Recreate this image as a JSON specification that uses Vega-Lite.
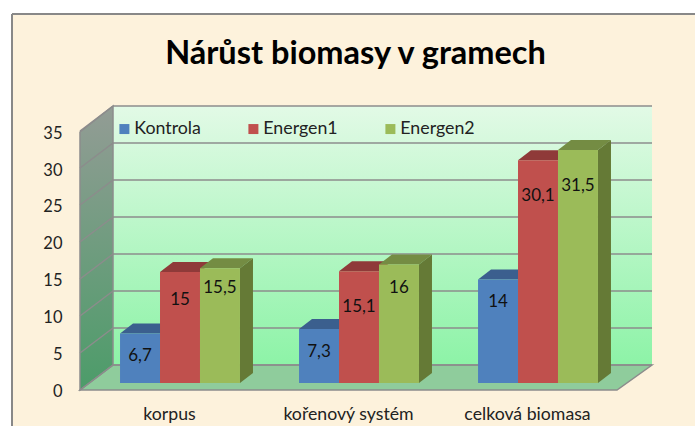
{
"$schema":"https://vega.github.io/schema/vega-lite/v6.json",
"autosize":"none",
"padding":{"left":12,"top":14,"right":0,"bottom":0},
"width":683,"height":412,
"background":"#ffffff",
"view":{"fill":"#fdf2dc","stroke":null},
"config":{"font":"Lato"},
"title":{"text":"Nárůst biomasy v gramech","font":"Lato","fontSize":32.5,"fontWeight":"bold","color":"#000000","anchor":"middle","frame":"group","offset":-57,"dx":2},
"datasets":{
"mereni":[
{"cast":"korpus","rada":"Kontrola","hodnota":6.7,"popisek":"6,7"},
{"cast":"korpus","rada":"Energen1","hodnota":15,"popisek":"15"},
{"cast":"korpus","rada":"Energen2","hodnota":15.5,"popisek":"15,5"},
{"cast":"kořenový systém","rada":"Kontrola","hodnota":7.3,"popisek":"7,3"},
{"cast":"kořenový systém","rada":"Energen1","hodnota":15.1,"popisek":"15,1"},
{"cast":"kořenový systém","rada":"Energen2","hodnota":16,"popisek":"16"},
{"cast":"celková biomasa","rada":"Kontrola","hodnota":14,"popisek":"14"},
{"cast":"celková biomasa","rada":"Energen1","hodnota":30.1,"popisek":"30,1"},
{"cast":"celková biomasa","rada":"Energen2","hodnota":31.5,"popisek":"31,5"}
],
"mrizka":[{"mez":0},{"mez":5},{"mez":10},{"mez":15},{"mez":20},{"mez":25},{"mez":30},{"mez":35}]
},
"resolve":{"scale":{"x":"independent"},"axis":{"x":"independent","y":"independent"},"legend":{"color":"independent"}},
"layer":[
{"data":{"name":"mrizka"},"transform":[{"filter":"datum.mez===0"}],
 "mark":{"type":"rule","stroke":"#888888","strokeWidth":2},"encoding":{"x":{"value":0}}},
{"data":{"name":"mrizka"},"transform":[{"filter":"datum.mez===0"}],
 "mark":{"type":"rule","stroke":"#888888","strokeWidth":2},"encoding":{"y":{"value":0}}},
{"data":{"name":"mrizka"},"transform":[{"filter":"datum.mez===0"}],
 "mark":{"type":"rect","xOffset":33,"x2Offset":35,"yOffset":-18,"y2Offset":-18,
  "fill":{"x1":0,"y1":0,"x2":0,"y2":1,"gradient":"linear","stops":[{"offset":0,"color":"#e2fae6"},{"offset":1,"color":"#8df3a7"}]}},
 "encoding":{
  "x":{"datum":0,"type":"quantitative","scale":{"domain":[0,3],"range":[68,605]},"axis":null},
  "x2":{"datum":3},
  "y":{"datum":35,"type":"quantitative","scale":{"domain":[-5.811,49.865],"range":[412,0],"nice":false,"zero":false},"axis":null},
  "y2":{"datum":0}}},
{"data":{"name":"mrizka"},"transform":[{"filter":"datum.mez===0"}],
 "mark":{"type":"point","filled":true,"opacity":1,"size":4,"yOffset":7,"shape":"M0,0 L33,-25 L572,-25 L537,0 Z","fill":"#8fcc9c","stroke":"#8c8c8c","strokeWidth":1.5},
 "encoding":{
  "x":{"datum":0,"type":"quantitative","scale":{"domain":[0,3],"range":[68,605]},"axis":null},
  "y":{"field":"mez","type":"quantitative","axis":null}}},
{"data":{"name":"mrizka"},"transform":[{"filter":"datum.mez===0"}],
 "mark":{"type":"point","filled":true,"opacity":1,"size":4,"yOffset":7,"shape":"M0,0 L33,-25 L33,-284 L0,-258 Z",
  "fill":{"x1":0,"y1":0,"x2":0,"y2":1,"gradient":"linear","stops":[{"offset":0,"color":"#939c95"},{"offset":1,"color":"#4c9c69"}]},"stroke":"#8c8c8c","strokeWidth":1.5},
 "encoding":{
  "x":{"datum":0,"type":"quantitative","scale":{"domain":[0,3],"range":[68,605]},"axis":null},
  "y":{"field":"mez","type":"quantitative","axis":null}}},
{"data":{"name":"mrizka"},
 "mark":{"type":"rule","stroke":"#8c8c8c","strokeWidth":1.5,"xOffset":33,"x2Offset":35,"yOffset":-18},
 "encoding":{
  "x":{"datum":0,"type":"quantitative","scale":{"domain":[0,3],"range":[68,605]},"axis":null},
  "x2":{"datum":3},
  "y":{"field":"mez","type":"quantitative","axis":null}}},
{"data":{"name":"mrizka"},
 "mark":{"type":"rule","stroke":"#8c8c8c","strokeWidth":1.5,"x2Offset":33,"yOffset":7,"y2Offset":-18},
 "encoding":{
  "x":{"datum":0,"type":"quantitative","scale":{"domain":[0,3],"range":[68,605]},"axis":null},
  "x2":{"datum":0},
  "y":{"field":"mez","type":"quantitative","axis":null},
  "y2":{"field":"mez"}}},
{"data":{"name":"mereni"},
 "mark":{"type":"point","filled":true,"opacity":1,"size":4,"shape":"M-20,0 L20,0 L33,-10 L-7,-10 Z"},
 "encoding":{
  "x":{"field":"cast","type":"nominal","sort":null,"scale":{"range":[78.5,615.5],"paddingInner":0.33,"paddingOuter":0.165},"axis":null},
  "xOffset":{"field":"rada","type":"nominal","sort":null},
  "y":{"field":"hodnota","type":"quantitative","axis":null},
  "fill":{"field":"rada","type":"nominal","sort":null,"scale":{"domain":["Kontrola","Energen1","Energen2"],"range":["#3b5f8e","#8f3a39","#748c43"]},"legend":null}}},
{"data":{"name":"mereni"},"transform":[{"filter":"datum.rada==='Energen2'"}],
 "mark":{"type":"point","filled":true,"opacity":1,"size":4,"fill":"#657a36"},
 "encoding":{
  "x":{"field":"cast","type":"nominal","sort":null,"scale":{"domain":["korpus","kořenový systém","celková biomasa"],"range":[78.5,615.5],"paddingInner":0.33,"paddingOuter":0.165},"axis":null},
  "xOffset":{"field":"rada","type":"nominal","scale":{"domain":["Kontrola","Energen1","Energen2"]}},
  "y":{"field":"hodnota","type":"quantitative","axis":null},
  "shape":{"field":"popisek","type":"nominal","legend":null,"scale":{"domain":["15,5","16","31,5"],"range":["M20,0 L33,-10 L33,104.7 L20,114.7 Z","M20,0 L33,-10 L33,108.4 L20,118.4 Z","M20,0 L33,-10 L33,223.1 L20,233.1 Z"]}}}},
{"data":{"name":"mereni"},
 "mark":{"type":"bar"},
 "encoding":{
  "x":{"field":"cast","type":"nominal","sort":null,"scale":{"range":[78.5,615.5],"paddingInner":0.33,"paddingOuter":0.165},
   "axis":{"title":null,"orient":"bottom","offset":-12,"labelAngle":0,"labelPadding":0,"ticks":false,"domain":false,"labelFont":"Lato","labelFontSize":17.7,"labelColor":"#222222","labelBaseline":"middle","labelOffset":-10.5}},
  "xOffset":{"field":"rada","type":"nominal","sort":null},
  "y":{"field":"hodnota","type":"quantitative",
   "axis":{"title":null,"orient":"left","offset":-50,"values":[0,5,10,15,20,25,30,35],"ticks":false,"domain":false,"grid":false,"labelPadding":0,"labelOffset":9,"labelFont":"Lato","labelFontSize":16.5,"labelColor":"#222222","format":"d"}},
  "color":{"field":"rada","type":"nominal","sort":null,"scale":{"domain":["Kontrola","Energen1","Energen2"],"range":["#4f81bd","#c0504d","#9bbb59"]},
   "legend":{"orient":"none","legendX":103.5,"legendY":106,"padding":0,"title":null,"direction":"horizontal","columns":3,"gridAlign":"each","columnPadding":43,"symbolType":"square","symbolSize":100,"symbolStrokeWidth":0,"labelFont":"Lato","labelFontSize":17.8,"labelColor":"#222222","labelOffset":1}}}},
{"data":{"name":"mereni"},"transform":[{"filter":"datum.popisek==='6,7'||datum.popisek==='7,3'||datum.popisek==='14'||datum.popisek==='16'"}],
 "mark":{"type":"text","font":"Lato","fontSize":17,"color":"#111111","baseline":"middle","align":"center","dy":23},
 "encoding":{
  "x":{"field":"cast","type":"nominal","scale":{"domain":["korpus","kořenový systém","celková biomasa"],"range":[78.5,615.5],"paddingInner":0.33,"paddingOuter":0.165},"axis":null},
  "xOffset":{"field":"rada","type":"nominal","scale":{"domain":["Kontrola","Energen1","Energen2"]}},
  "y":{"field":"hodnota","type":"quantitative","axis":null},
  "text":{"field":"popisek","type":"nominal"}}},
{"data":{"name":"mereni"},"transform":[{"filter":"datum.popisek==='15,5'"}],
 "mark":{"type":"text","font":"Lato","fontSize":17,"color":"#111111","baseline":"middle","align":"center","dy":20},
 "encoding":{
  "x":{"field":"cast","type":"nominal","scale":{"domain":["korpus","kořenový systém","celková biomasa"],"range":[78.5,615.5],"paddingInner":0.33,"paddingOuter":0.165},"axis":null},
  "xOffset":{"field":"rada","type":"nominal","scale":{"domain":["Kontrola","Energen1","Energen2"]}},
  "y":{"field":"hodnota","type":"quantitative","axis":null},
  "text":{"field":"popisek","type":"nominal"}}},
{"data":{"name":"mereni"},"transform":[{"filter":"datum.popisek==='15'"}],
 "mark":{"type":"text","font":"Lato","fontSize":17,"color":"#111111","baseline":"middle","align":"center","dy":28},
 "encoding":{
  "x":{"field":"cast","type":"nominal","scale":{"domain":["korpus","kořenový systém","celková biomasa"],"range":[78.5,615.5],"paddingInner":0.33,"paddingOuter":0.165},"axis":null},
  "xOffset":{"field":"rada","type":"nominal","scale":{"domain":["Kontrola","Energen1","Energen2"]}},
  "y":{"field":"hodnota","type":"quantitative","axis":null},
  "text":{"field":"popisek","type":"nominal"}}},
{"data":{"name":"mereni"},"transform":[{"filter":"datum.popisek==='15,1'||datum.popisek==='30,1'||datum.popisek==='31,5'"}],
 "mark":{"type":"text","font":"Lato","fontSize":17,"color":"#111111","baseline":"middle","align":"center","dy":36},
 "encoding":{
  "x":{"field":"cast","type":"nominal","scale":{"domain":["korpus","kořenový systém","celková biomasa"],"range":[78.5,615.5],"paddingInner":0.33,"paddingOuter":0.165},"axis":null},
  "xOffset":{"field":"rada","type":"nominal","scale":{"domain":["Kontrola","Energen1","Energen2"]}},
  "y":{"field":"hodnota","type":"quantitative","axis":null},
  "text":{"field":"popisek","type":"nominal"}}}
]
}
